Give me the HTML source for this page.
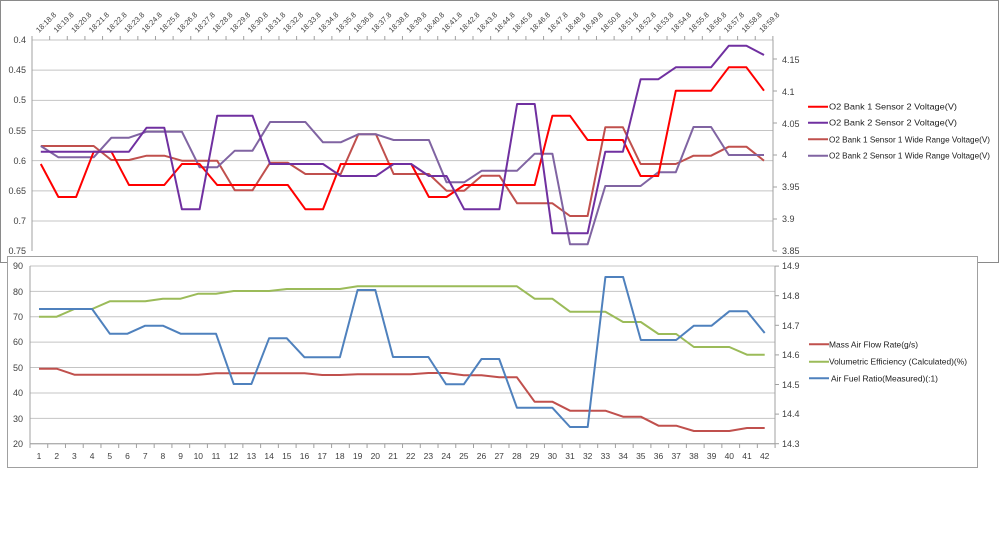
<!DOCTYPE html>
<html><head><meta charset="utf-8"><style>
html,body{margin:0;padding:0;background:#fff;width:1000px;height:533px;overflow:hidden}
svg{display:block;font-family:"Liberation Sans",sans-serif}
</style></head><body>
<svg id="s" width="1000" height="533" viewBox="0 0 1000 533" xmlns="http://www.w3.org/2000/svg">
<rect x="0.5" y="0.5" width="998" height="262" fill="#fff" stroke="#8a8a8a"/>
<g id="topgrid" stroke="#c4c4c4" stroke-width="1"></g>
<g font-size="9" fill="#404040" text-anchor="end">
<text x="26" y="43">0.4</text><text x="26" y="73">0.45</text><text x="26" y="103">0.5</text><text x="26" y="134">0.55</text><text x="26" y="164">0.6</text><text x="26" y="194">0.65</text><text x="26" y="224">0.7</text><text x="26" y="254">0.75</text>
</g>
<g font-size="9" fill="#404040">
<text x="782" y="63">4.15</text><text x="782" y="95">4.1</text><text x="782" y="127">4.05</text><text x="782" y="158">4</text><text x="782" y="190">3.95</text><text x="782" y="222">3.9</text><text x="782" y="254">3.85</text>
</g>
<g id="toplabels" font-size="7.5" fill="#404040">
<text transform="translate(39,33) rotate(-45)">18:18.8</text><text transform="translate(56.6,33) rotate(-45)">18:19.8</text><text transform="translate(74.3,33) rotate(-45)">18:20.8</text><text transform="translate(91.9,33) rotate(-45)">18:21.8</text><text transform="translate(109.6,33) rotate(-45)">18:22.8</text><text transform="translate(127.2,33) rotate(-45)">18:23.8</text><text transform="translate(144.8,33) rotate(-45)">18:24.8</text><text transform="translate(162.5,33) rotate(-45)">18:25.8</text><text transform="translate(180.1,33) rotate(-45)">18:26.8</text><text transform="translate(197.8,33) rotate(-45)">18:27.8</text><text transform="translate(215.4,33) rotate(-45)">18:28.8</text><text transform="translate(233,33) rotate(-45)">18:29.8</text><text transform="translate(250.7,33) rotate(-45)">18:30.8</text><text transform="translate(268.3,33) rotate(-45)">18:31.8</text><text transform="translate(286,33) rotate(-45)">18:32.8</text><text transform="translate(303.6,33) rotate(-45)">18:33.8</text><text transform="translate(321.2,33) rotate(-45)">18:34.8</text><text transform="translate(338.9,33) rotate(-45)">18:35.8</text><text transform="translate(356.5,33) rotate(-45)">18:36.8</text><text transform="translate(374.2,33) rotate(-45)">18:37.8</text><text transform="translate(391.8,33) rotate(-45)">18:38.8</text><text transform="translate(409.4,33) rotate(-45)">18:39.8</text><text transform="translate(427.1,33) rotate(-45)">18:40.8</text><text transform="translate(444.7,33) rotate(-45)">18:41.8</text><text transform="translate(462.4,33) rotate(-45)">18:42.8</text><text transform="translate(480,33) rotate(-45)">18:43.8</text><text transform="translate(497.6,33) rotate(-45)">18:44.8</text><text transform="translate(515.3,33) rotate(-45)">18:45.8</text><text transform="translate(532.9,33) rotate(-45)">18:46.8</text><text transform="translate(550.6,33) rotate(-45)">18:47.8</text><text transform="translate(568.2,33) rotate(-45)">18:48.8</text><text transform="translate(585.8,33) rotate(-45)">18:49.8</text><text transform="translate(603.5,33) rotate(-45)">18:50.8</text><text transform="translate(621.1,33) rotate(-45)">18:51.8</text><text transform="translate(638.8,33) rotate(-45)">18:52.8</text><text transform="translate(656.4,33) rotate(-45)">18:53.8</text><text transform="translate(674,33) rotate(-45)">18:54.8</text><text transform="translate(691.7,33) rotate(-45)">18:55.8</text><text transform="translate(709.3,33) rotate(-45)">18:56.8</text><text transform="translate(727,33) rotate(-45)">18:57.8</text><text transform="translate(744.6,33) rotate(-45)">18:58.8</text><text transform="translate(762.2,33) rotate(-45)">18:59.8</text>
</g>
<g id="topseries" fill="none" stroke-width="2" stroke-linejoin="round"></g>
<g font-size="8.5" fill="#202020">
<line x1="808" y1="106.7" x2="828" y2="106.7" stroke="#ff0000" stroke-width="2"/><text x="829" y="109.7" textLength="128" lengthAdjust="spacingAndGlyphs">O2 Bank 1 Sensor 2 Voltage(V)</text>
<line x1="808" y1="122.7" x2="828" y2="122.7" stroke="#7030a0" stroke-width="2"/><text x="829" y="125.7" textLength="128" lengthAdjust="spacingAndGlyphs">O2 Bank 2 Sensor 2 Voltage(V)</text>
<line x1="808" y1="139.3" x2="828" y2="139.3" stroke="#c0504d" stroke-width="2"/><text x="829" y="142.3" textLength="161" lengthAdjust="spacingAndGlyphs">O2 Bank 1 Sensor 1 Wide Range Voltage(V)</text>
<line x1="808" y1="155.7" x2="828" y2="155.7" stroke="#8064a2" stroke-width="2"/><text x="829" y="158.7" textLength="161" lengthAdjust="spacingAndGlyphs">O2 Bank 2 Sensor 1 Wide Range Voltage(V)</text>
</g>
<rect x="7.5" y="256.5" width="970" height="211" fill="#fff" stroke="#a0a0a0"/>
<g id="botgrid" stroke="#c4c4c4" stroke-width="1"></g>
<g font-size="9" fill="#404040" text-anchor="end">
<text x="23" y="269">90</text><text x="23" y="295">80</text><text x="23" y="320">70</text><text x="23" y="345">60</text><text x="23" y="371">50</text><text x="23" y="396">40</text><text x="23" y="422">30</text><text x="23" y="447">20</text>
</g>
<g font-size="9" fill="#404040">
<text x="782" y="269">14.9</text><text x="782" y="299">14.8</text><text x="782" y="329">14.7</text><text x="782" y="358">14.6</text><text x="782" y="388">14.5</text><text x="782" y="417">14.4</text><text x="782" y="447">14.3</text>
</g>
<g font-size="8.5" fill="#404040" text-anchor="middle">
<text x="39" y="459">1</text><text x="56.7" y="459">2</text><text x="74.4" y="459">3</text><text x="92.1" y="459">4</text><text x="109.8" y="459">5</text><text x="127.5" y="459">6</text><text x="145.2" y="459">7</text><text x="162.9" y="459">8</text><text x="180.6" y="459">9</text><text x="198.3" y="459">10</text><text x="216" y="459">11</text><text x="233.7" y="459">12</text><text x="251.4" y="459">13</text><text x="269.1" y="459">14</text><text x="286.8" y="459">15</text><text x="304.5" y="459">16</text><text x="322.2" y="459">17</text><text x="339.9" y="459">18</text><text x="357.6" y="459">19</text><text x="375.3" y="459">20</text><text x="393" y="459">21</text><text x="410.7" y="459">22</text><text x="428.4" y="459">23</text><text x="446.1" y="459">24</text><text x="463.8" y="459">25</text><text x="481.5" y="459">26</text><text x="499.2" y="459">27</text><text x="516.9" y="459">28</text><text x="534.6" y="459">29</text><text x="552.3" y="459">30</text><text x="570" y="459">31</text><text x="587.7" y="459">32</text><text x="605.4" y="459">33</text><text x="623.1" y="459">34</text><text x="640.8" y="459">35</text><text x="658.5" y="459">36</text><text x="676.2" y="459">37</text><text x="693.9" y="459">38</text><text x="711.6" y="459">39</text><text x="729.3" y="459">40</text><text x="747" y="459">41</text><text x="764.7" y="459">42</text>
</g>
<g id="botseries" fill="none" stroke-width="2" stroke-linejoin="round"></g>
<g font-size="8.5" fill="#202020">
<line x1="809" y1="344.3" x2="829" y2="344.3" stroke="#c0504d" stroke-width="2"/><text x="829" y="347.3" textLength="89" lengthAdjust="spacingAndGlyphs">Mass Air Flow Rate(g/s)</text>
<line x1="809" y1="361.7" x2="829" y2="361.7" stroke="#9bbb59" stroke-width="2"/><text x="829" y="364.7" textLength="138" lengthAdjust="spacingAndGlyphs">Volumetric Efficiency (Calculated)(%)</text>
<line x1="809" y1="378.3" x2="829" y2="378.3" stroke="#4f81bd" stroke-width="2"/><text x="831" y="381.3" textLength="107" lengthAdjust="spacingAndGlyphs">Air Fuel Ratio(Measured)(:1)</text>
</g>
</svg>
<script>
(function(){
var NS="http://www.w3.org/2000/svg";
function el(p,n,a){var e=document.createElementNS(NS,n);for(var k in a)e.setAttribute(k,a[k]);p.appendChild(e);return e;}
function rep(arr){var o=[];for(var i=0;i<arr.length;i+=2)for(var j=0;j<arr[i+1];j++)o.push(arr[i]);return o;}
var tg=document.getElementById("topgrid");
for(var i=0;i<7;i++){var y=40+i*30.17;el(tg,"line",{x1:32,x2:773,y1:y,y2:y});}
el(tg,"line",{x1:32,x2:32,y1:40,y2:251,stroke:"#a0a0a0"});
el(tg,"line",{x1:773,x2:773,y1:40,y2:251,stroke:"#a0a0a0"});
for(var i=0;i<=42;i++){var x=32+i*17.64;el(tg,"line",{x1:x,x2:x,y1:36,y2:40,stroke:"#a0a0a0"});}
for(var i=0;i<7;i++){var y=251-i*32;el(tg,"line",{x1:773,x2:777,y1:y,y2:y,stroke:"#a0a0a0"});}
var ts=document.getElementById("topseries");
var top=[
 ["#c0504d",rep([146,4,160,2,155.7,2,160.7,3,190.3,2,162.7,2,174,3,134.3,2,174,3,190.7,2,175.7,2,203.3,3,216,2,127.3,2,164,3,155.7,2,146.7,2,160.7,1])],
 ["#8064a2",rep([146,1,157.3,3,137.7,2,131.7,3,167.3,2,150.7,2,122,3,142.3,2,134.3,2,140,3,182.3,2,170.7,3,153.7,2,244.3,2,186,3,172.3,2,127,2,155,3])],
 ["#ff0000",rep([164,1,197,2,151.7,2,185,3,164,2,185,5,209.3,2,164,5,197,2,185,5,115.7,2,140,3,176,2,90.7,3,67.3,2,90.7,1])],
 ["#7030a0",rep([151.7,6,127.7,2,209.3,2,115.7,3,164,4,176,3,164,2,176,2,209.3,3,104,2,233.3,3,151.7,2,79.3,2,67.3,3,45.7,2,55,1])]
];
top.forEach(function(s){var p=s[1].map(function(y,i){return (40.8+17.64*i).toFixed(1)+","+y;}).join(" ");el(ts,"polyline",{points:p,stroke:s[0]});});
var bg=document.getElementById("botgrid");
for(var i=0;i<8;i++){var y=266+i*25.39;el(bg,"line",{x1:30,x2:775,y1:y,y2:y});}
el(bg,"line",{x1:30,x2:30,y1:266,y2:443.7,stroke:"#a0a0a0"});
el(bg,"line",{x1:775,x2:775,y1:266,y2:443.7,stroke:"#a0a0a0"});
el(bg,"line",{x1:30,x2:775,y1:443.7,y2:443.7,stroke:"#a0a0a0"});
for(var i=0;i<=42;i++){var x=30+i*17.74;el(bg,"line",{x1:x,x2:x,y1:443.7,y2:448,stroke:"#a0a0a0"});}
for(var i=0;i<7;i++){var y=443.7-i*29.6;el(bg,"line",{x1:775,x2:779,y1:y,y2:y,stroke:"#a0a0a0"});}
var bs=document.getElementById("botseries");
var bot=[
 ["#c0504d",rep([368.7,2,374.7,8,373.3,6,375,2,374.3,4,373,2,375.3,2,377.3,2,401.7,2,410.7,3,416.7,2,425.7,2,431,3,428,2])],
 ["#9bbb59",rep([316.7,2,309,2,301.3,3,298.7,2,293.7,2,291,3,289,4,286.3,10,298.7,2,311.7,3,322,2,334,2,347,3,354.7,2])],
 ["#4f81bd",rep([309,4,333.7,2,325.7,2,333.7,3,384,2,338.3,2,357.3,3,290,2,357,3,384.3,2,359,2,407.7,3,427,2,277,2,340,3,325.7,2,311.3,2,333,1])]
];
bot.forEach(function(s){var p=s[1].map(function(y,i){return (39+17.7*i).toFixed(1)+","+y;}).join(" ");el(bs,"polyline",{points:p,stroke:s[0]});});
})();
</script>
</body></html>
